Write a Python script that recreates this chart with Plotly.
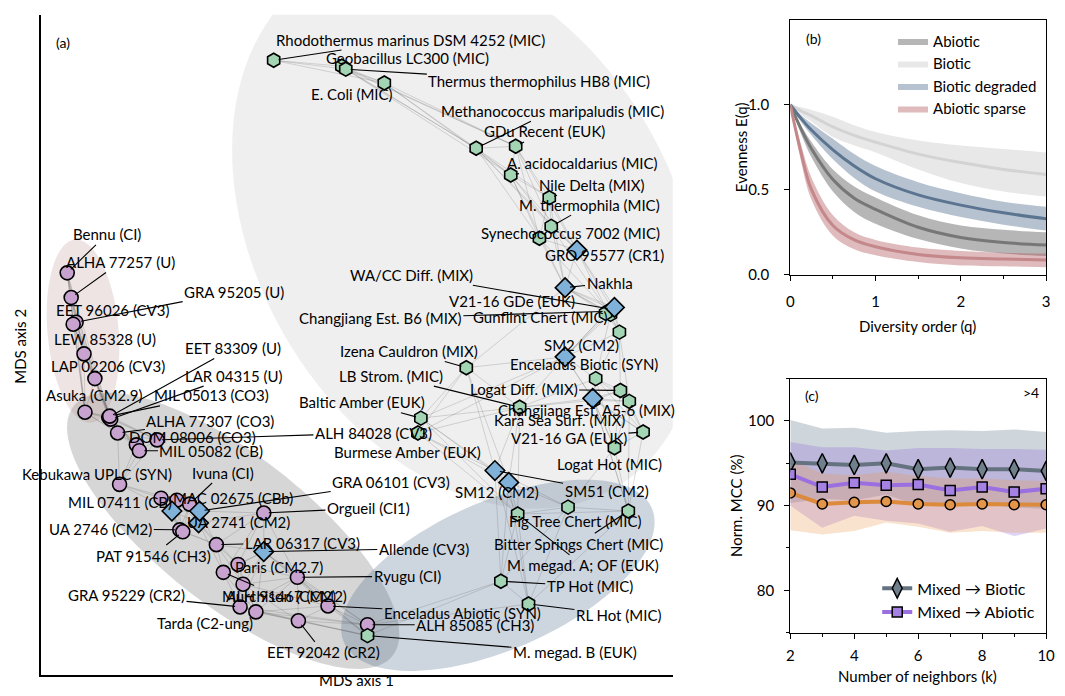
import numpy as np
import plotly.graph_objects as go

W, H = 1065, 696
FONT = "Lato"

# ---------------- Panel (a): MDS network ----------------
names = ["Bennu (CI)", "ALHA 77257 (U)", "GRA 95205 (U)", "EET 96026 (CV3)", "LEW 85328 (U)",
         "LAP 02206 (CV3)", "Asuka (CM2.9)", "EET 83309 (U)", "LAR 04315 (U)", "MIL 05013 (CO3)",
         "ALHA 77307 (CO3)", "DOM 08006 (CO3)", "MIL 05082 (CB)", "ALH 84028 (CV3)", "Kebukawa UPLC (SYN)",
         "MIL 07411 (CB)", "MAC 02675 (CBb)", "Ivuna (CI)", "UA 2746 (CM2)", "PAT 91546 (CH3)",
         "UA 2741 (CM2)", "GRA 06101 (CV3)", "", "Orgueil (CI1)", "LAR 06317 (CV3)",
         "Allende (CV3)", "Paris (CM2.7)", "Ryugu (CI)", "Murchison (CM2)", "ALH 91467 (CM2)",
         "GRA 95229 (CR2)", "Tarda (C2-ung)", "EET 92042 (CR2)", "Enceladus Abiotic (SYN)", "ALH 85085 (CH3)",
         "Rhodothermus marinus DSM 4252 (MIC)", "Geobacillus LC300 (MIC)", "Thermus thermophilus HB8 (MIC)",
         "E. Coli (MIC)", "Methanococcus maripaludis (MIC)", "GDu Recent (EUK)", "A. acidocaldarius (MIC)",
         "Nile Delta (MIX)", "M. thermophila (MIC)", "Synechococcus 7002 (MIC)", "GRO 95577 (CR1)", "Nakhla",
         "WA/CC Diff. (MIX)", "V21-16 GDe (EUK)", "Changjiang Est. B6 (MIX)", "Gunflint Chert (MIC)", "", "",
         "Izena Cauldron (MIX)", "SM2 (CM2)", "Enceladus Biotic (SYN)", "LB Strom. (MIC)", "Logat Diff. (MIX)",
         "Changjiang Est. A5-6 (MIX)", "Kara Sea Surf. (MIX)", "", "Baltic Amber (EUK)", "Burmese Amber (EUK)",
         "V21-16 GA (EUK)", "Logat Hot (MIC)", "SM12 (CM2)", "SM51 (CM2)", "Fig Tree Chert (MIC)",
         "Bitter Springs Chert (MIC)", "M. megad. A; OF (EUK)", "TP Hot (MIC)", "RL Hot (MIC)", "M. megad. B (EUK)"]
groups = (["A"] * 20 + ["M", "M", "M", "A", "A", "M"] + ["A"] * 9 +
          ["B"] * 10 + ["M", "M", "B", "B", "B", "B", "M", "B", "B", "M", "B", "B", "B", "B", "B", "M",
                        "B", "B", "B", "B", "M", "M", "B", "B", "B", "B", "B", "B"])
mds1 = [0.27, 0.31, 0.36, 0.33, 0.44, 0.55, 0.45, 0.69, 0.71, 0.70,
        0.78, 0.97, 1.00, 1.18, 0.80, 1.22, 1.38, 1.51, 1.41, 1.44,
        1.60, 1.61, 1.33, 2.26, 1.78, 2.26, 2.00, 2.60, 1.85, 2.05,
        2.02, 2.18, 2.61, 2.91, 3.31,
        2.36, 3.05, 3.09, 3.48, 4.41, 4.81, 4.76, 5.15, 5.17, 5.05,
        5.43, 5.31, 5.79, 5.77, 5.74, 5.72, 5.81, 5.86, 4.31, 5.31,
        5.62, 4.85, 5.87, 5.96, 5.60, 5.59, 3.85, 3.82, 6.10, 5.81,
        4.74, 4.60, 5.34, 5.95, 4.83, 4.66, 4.94, 3.31]
mds2 = [4.07, 3.82, 3.57, 3.55, 3.25, 3.00, 2.66, 2.61, 2.59, 2.62,
        2.45, 2.33, 2.27, 2.38, 1.93, 1.79, 1.77, 1.73, 1.47, 1.45,
        1.54, 1.66, 1.66, 1.64, 1.32, 1.25, 1.12, 0.99, 1.04, 0.92,
        0.69, 0.64, 0.55, 0.70, 0.51,
        6.22, 6.16, 6.13, 5.99, 5.33, 5.35, 5.06, 4.83, 4.54, 4.42,
        4.30, 3.92, 3.70, 3.65, 3.68, 3.66, 3.72, 3.47, 3.11, 3.22,
        3.00, 2.71, 2.88, 2.77, 2.78, 2.80, 2.60, 2.45, 2.46, 2.30,
        1.95, 2.07, 1.70, 1.66, 1.63, 0.95, 0.72, 0.40]
lab_x = [0.67, 0.81, 1.96, 0.73, 0.65, 0.68, 0.55, 1.95, 1.95, 1.73,
         1.72, 1.54, 1.73, 3.37, 0.57, 0.80, 1.95, 1.85, 0.61, 1.14,
         2.00, 3.55, None, 3.32, 2.65, 3.88, 2.41, 3.71, 2.41, 2.49,
         0.87, 1.66, 2.86, 4.27, 4.40,
         3.75, 3.71, 5.05, 3.15, 5.18, 5.10, 5.49, 5.58, 5.56, 5.36,
         5.71, 5.76, 3.76, 4.77, 3.44, 5.06, None, None, 3.73, 5.48,
         5.50, 3.55, 4.89, 5.53, 5.25, None, 3.25, 3.71, 5.35, 5.76,
         4.62, 5.73, 5.41, 5.45, 5.49, 5.56, 5.85, 5.41]
lab_y = [4.46, 4.18, 3.88, 3.69, 3.40, 3.13, 2.83, 3.31, 3.03, 2.83,
         2.57, 2.41, 2.27, 2.45, 2.03, 1.75, 1.79, 2.05, 1.48, 1.21,
         1.55, 1.95, None, 1.69, 1.34, 1.28, 1.09, 1.00, 0.80, 0.80,
         0.81, 0.53, 0.23, 0.63, 0.51,
         6.43, 6.24, 6.01, 5.88, 5.71, 5.50, 5.18, 4.96, 4.76, 4.47,
         4.25, 3.97, 4.05, 3.78, 3.61, 3.62, None, None, 3.28, 3.34,
         3.15, 3.03, 2.89, 2.68, 2.58, None, 2.76, 2.26, 2.40, 2.14,
         1.85, 1.86, 1.56, 1.33, 1.11, 0.90, 0.61, 0.23]
leader = [1, 1, 1, 0, 0, 0, 0, 1, 1, 1,
          1, 0, 1, 1, 0, 0, 0, 1, 1, 1,
          0, 1, 0, 1, 1, 1, 0, 1, 1, 0,
          1, 0, 1, 1, 1,
          1, 1, 1, 0, 1, 1, 1, 1, 1, 0,
          0, 1, 1, 0, 1, 0, 0, 0, 1, 0,
          0, 1, 1, 0, 0, 0, 1, 0, 1, 0,
          0, 1, 0, 1, 1, 1, 1, 1]

# group ellipses (centre x, centre y, semi-major, semi-minor, angle in degrees)
ellipses = [
    (4.31, 4.49, 3.00, 2.12, -60.0, "rgba(160,160,160,0.17)"),
    (1.95, 1.46, 2.05, 0.76, -38.0, "rgba(120,120,120,0.30)"),
    (4.63, 1.01, 1.70, 0.75, 23.6, "rgba(70,100,135,0.27)"),
    (0.43, 3.48, 0.93, 0.36, 95.0, "rgba(180,130,130,0.22)"),
]

# ---------------- Panel (b): evenness profiles ----------------
q = [0, 0.125, 0.25, 0.5, 0.75, 1.0, 1.5, 2.0, 2.5, 3.0]
ev = {
    "Biotic": ([1.0, 0.965, 0.935, 0.87, 0.82, 0.78, 0.71, 0.66, 0.62, 0.59],
               [1.0, 0.985, 0.97, 0.93, 0.88, 0.84, 0.79, 0.76, 0.74, 0.72],
               [1.0, 0.945, 0.90, 0.81, 0.76, 0.72, 0.62, 0.54, 0.49, 0.46]),
    "Biotic degraded": ([1.0, 0.92, 0.85, 0.735, 0.64, 0.565, 0.47, 0.41, 0.365, 0.33],
                        [1.0, 0.94, 0.89, 0.80, 0.71, 0.64, 0.545, 0.48, 0.43, 0.40],
                        [1.0, 0.90, 0.82, 0.68, 0.57, 0.49, 0.40, 0.34, 0.295, 0.26]),
    "Abiotic": ([1.0, 0.86, 0.74, 0.56, 0.45, 0.385, 0.28, 0.22, 0.19, 0.175],
                [1.0, 0.88, 0.78, 0.62, 0.52, 0.455, 0.35, 0.29, 0.265, 0.25],
                [1.0, 0.83, 0.69, 0.49, 0.37, 0.30, 0.21, 0.155, 0.125, 0.11]),
    "Abiotic sparse": ([1.0, 0.72, 0.50, 0.29, 0.205, 0.165, 0.12, 0.10, 0.093, 0.087],
                       [1.0, 0.77, 0.57, 0.35, 0.25, 0.205, 0.16, 0.14, 0.13, 0.125],
                       [1.0, 0.67, 0.44, 0.23, 0.15, 0.115, 0.075, 0.055, 0.05, 0.045]),
}

# ---------------- Panel (c): normalised MCC ----------------
k = [2, 3, 4, 5, 6, 7, 8, 9, 10]
mcc_bio = [95.1, 95.0, 94.8, 95.0, 94.3, 94.5, 94.3, 94.3, 94.1]
mcc_bio_hi = [100.1, 99.1, 99.2, 98.6, 98.8, 98.9, 98.8, 99.0, 98.7]
mcc_bio_lo = [90.3, 90.8, 90.6, 91.3, 90.0, 90.2, 90.1, 89.8, 89.6]
mcc_abio = [93.7, 92.2, 92.7, 92.4, 92.5, 91.8, 92.2, 91.6, 92.0]
mcc_abio_hi = [97.5, 96.9, 96.9, 96.5, 96.8, 96.8, 96.7, 96.7, 96.6]
mcc_abio_lo = [90.0, 87.4, 88.8, 88.2, 87.9, 86.9, 87.6, 86.4, 87.3]
mcc_orng = [91.5, 90.2, 90.4, 90.5, 90.2, 90.1, 90.2, 90.1, 90.1]
mcc_orng_hi = [95.5, 93.8, 93.6, 94.0, 93.5, 93.2, 93.2, 93.0, 92.9]
mcc_orng_lo = [87.1, 86.6, 87.0, 88.0, 87.5, 86.8, 87.0, 86.8, 86.8]


def px(x):
    return x / W


def py(y):
    return 1 - y / H


fig = go.Figure()

# ---- panel (a) ----
def ellipse_path(cx, cy, a, b, ang):
    t = np.linspace(0, 2 * np.pi, 120)
    th = np.deg2rad(ang)
    xs = cx + a * np.cos(t) * np.cos(th) - b * np.sin(t) * np.sin(th)
    ys = cy + a * np.cos(t) * np.sin(th) + b * np.sin(t) * np.cos(th)
    return "M " + " L ".join(f"{u:.4f},{v:.4f}" for u, v in zip(xs, ys)) + " Z"


shapes = []
for cx, cy, a, b, ang, col in ellipses:
    shapes.append(dict(type="path", xref="x", yref="y", path=ellipse_path(cx, cy, a, b, ang),
                       fillcolor=col, line=dict(width=0), layer="below"))

# network edges: nearest neighbours in the MDS embedding (short links only)
P = np.column_stack([mds1, mds2])
D = np.hypot(P[:, None, 0] - P[None, :, 0], P[:, None, 1] - P[None, :, 1])
edges = set()
for i in range(len(P)):
    for j in np.argsort(D[i])[1:8]:
        if D[i, j] < 2.0:
            edges.add((min(i, int(j)), max(i, int(j))))
ex, ey = [], []
for i, j in sorted(edges):
    ex += [mds1[i], mds1[j], None]
    ey += [mds2[i], mds2[j], None]
fig.add_trace(go.Scatter(x=ex, y=ey, mode="lines", line=dict(color="rgba(90,90,90,0.28)", width=0.8),
                         hoverinfo="skip", showlegend=False, xaxis="x", yaxis="y"))

gstyle = {"A": ("circle", "#c8a3cf", 14), "B": ("hexagon", "#a3d5b5", 14), "M": ("diamond", "#7fb1d9", 15)}
for g in ["A", "B", "M"]:
    idx = [i for i in range(len(names)) if groups[i] == g]
    sym, col, sz = gstyle[g]
    fig.add_trace(go.Scatter(x=[mds1[i] for i in idx], y=[mds2[i] for i in idx], mode="markers",
                             marker=dict(symbol=sym, color=col, size=sz, line=dict(color="black", width=1.6)),
                             text=[names[i] for i in idx], hoverinfo="text", showlegend=False,
                             xaxis="x", yaxis="y"))

LFONT = dict(family=FONT, size=15, color="black")
annotations = []
for i, nm in enumerate(names):
    if not nm or lab_x[i] is None:
        continue
    if leader[i]:
        annotations.append(dict(x=mds1[i], y=mds2[i], xref="x", yref="y", ax=lab_x[i], ay=lab_y[i],
                                axref="x", ayref="y", text=nm, showarrow=True, arrowhead=0, arrowwidth=1.1,
                                arrowcolor="black", standoff=5, font=LFONT))
    else:
        annotations.append(dict(x=lab_x[i], y=lab_y[i], xref="x", yref="y", text=nm, showarrow=False,
                                font=LFONT))

# ---- panel (b) ----
bstyle = {
    "Biotic": ("rgba(180,180,180,0.30)", "#d3d3d3", 2),
    "Biotic degraded": ("rgba(80,110,140,0.42)", "#5b7590", 3),
    "Abiotic": ("rgba(110,110,110,0.50)", "#777777", 1),
    "Abiotic sparse": ("rgba(175,85,90,0.40)", "#c4878a", 4),
}
for name in ["Biotic", "Biotic degraded", "Abiotic", "Abiotic sparse"]:
    mid, hi, lo = ev[name]
    fcol, lcol, rank = bstyle[name]
    fig.add_trace(go.Scatter(x=q, y=hi, mode="lines", line=dict(width=0, shape="spline"),
                             showlegend=False, hoverinfo="skip", xaxis="x2", yaxis="y2"))
    fig.add_trace(go.Scatter(x=q, y=lo, mode="lines", line=dict(width=0, shape="spline"), fill="tonexty",
                             fillcolor=fcol, name=name, legendrank=rank, legend="legend",
                             xaxis="x2", yaxis="y2"))
    fig.add_trace(go.Scatter(x=q, y=mid, mode="lines", line=dict(width=3, color=lcol, shape="spline"),
                             showlegend=False, xaxis="x2", yaxis="y2"))

# ---- panel (c) ----
cseries = [
    ("Mixed \u2192 Biotic", mcc_bio, mcc_bio_hi, mcc_bio_lo, "rgba(110,130,145,0.33)", "#64737f",
     "#6f7f8c", "diamond-tall", 14, True),
    ("Mixed \u2192 Abiotic", mcc_abio, mcc_abio_hi, mcc_abio_lo, "rgba(140,100,220,0.28)", "#9a70e0",
     "#a581e4", "square", 10, True),
    ("Mixed \u2192 Mixed", mcc_orng, mcc_orng_hi, mcc_orng_lo, "rgba(235,150,80,0.28)", "#dc8a3c",
     "#e3964a", "circle", 10, False),
]
for nm, mid, hi, lo, fcol, lcol, mcol, sym, sz, leg in cseries:
    fig.add_trace(go.Scatter(x=k, y=hi, mode="lines", line=dict(width=0), showlegend=False,
                             hoverinfo="skip", xaxis="x3", yaxis="y3"))
    fig.add_trace(go.Scatter(x=k, y=lo, mode="lines", line=dict(width=0), fill="tonexty", fillcolor=fcol,
                             showlegend=False, hoverinfo="skip", xaxis="x3", yaxis="y3"))
for nm, mid, hi, lo, fcol, lcol, mcol, sym, sz, leg in cseries:
    fig.add_trace(go.Scatter(x=k, y=mid, mode="lines+markers", name=nm, showlegend=leg, legend="legend2",
                             line=dict(color=lcol, width=4),
                             marker=dict(symbol=sym, size=sz, color=mcol, line=dict(color="black", width=1.5)),
                             xaxis="x3", yaxis="y3"))

tickfont = dict(family=FONT, size=15, color="black")
axis_common = dict(showline=True, linecolor="black", linewidth=1.3, showgrid=False, zeroline=False,
                   ticks="outside", ticklen=5, tickwidth=1.2, tickcolor="black", tickfont=tickfont)


def txt(x, y, s, size=15, angle=0, xanchor="center"):
    return dict(x=px(x), y=py(y), xref="paper", yref="paper", text=s, showarrow=False, textangle=angle,
                xanchor=xanchor, yanchor="middle", font=dict(family=FONT, size=size, color="black"))


annotations += [
    txt(60, 43, "(a)", 14),
    txt(820, 39, "(b)", 14),
    txt(818, 400, "(c)", 14),
    txt(1050, 397, ">4", 14, xanchor="right"),
    txt(16, 350, "MDS axis 2", 15, -90),
    txt(357, 688, "MDS axis 1", 15),
    txt(746, 149, "Evenness E(q)", 15, -90),
    txt(925, 330, "Diversity order (q)", 15),
    txt(741, 511, "Norm. MCC (%)", 15, -90),
    txt(925, 684, "Number of neighbors (k)", 15),
]

fig.update_layout(
    width=W, height=H, margin=dict(l=0, r=0, t=0, b=0),
    paper_bgcolor="white", plot_bgcolor="white",
    font=dict(family=FONT, size=15, color="black"),
    xaxis=dict(domain=[px(37), px(677)], range=[0, 6.40], showline=True, linecolor="black", linewidth=1.5,
               showticklabels=False, ticks="", showgrid=False, zeroline=False),
    yaxis=dict(domain=[py(683), py(15)], range=[0, 6.68], showline=True, linecolor="black", linewidth=1.5,
               showticklabels=False, ticks="", showgrid=False, zeroline=False),
    xaxis2=dict(domain=[px(796), px(1055)], range=[0, 3], anchor="y2", mirror=True, ticklabelstandoff=8,
                tickvals=[0, 1, 2, 3], minor=dict(tickvals=[0.5, 1.5, 2.5], ticks="outside", ticklen=3,
                                                  tickcolor="black"), **axis_common),
    yaxis2=dict(domain=[py(278), py(20)], range=[0, 1.5], anchor="x2", mirror=True, ticklabelstandoff=12,
                tickvals=[0, 0.5, 1.0], ticktext=["0.0", "0.5", "1.0"], **axis_common),
    xaxis3=dict(domain=[px(796), px(1055)], range=[2, 10], anchor="y3", mirror=True, ticklabelstandoff=4,
                tickvals=[2, 4, 6, 8, 10], minor=dict(tickvals=[3, 5, 7, 9], ticks="outside", ticklen=3,
                                                      tickcolor="black"), **axis_common),
    yaxis3=dict(domain=[py(640), py(383)], range=[75, 105], anchor="x3", mirror=True, ticklabelstandoff=7,
                tickvals=[80, 90, 100], minor=dict(tickvals=[75, 85, 95, 105], ticks="outside", ticklen=3,
                                                   tickcolor="black"), **axis_common),
    legend=dict(x=px(900), y=py(25), xanchor="left", yanchor="top", bgcolor="rgba(0,0,0,0)",
                font=dict(family=FONT, size=15), tracegroupgap=0, traceorder="normal"),
    legend2=dict(x=px(884), y=py(578), xanchor="left", yanchor="top", bgcolor="rgba(0,0,0,0)",
                 font=dict(family=FONT, size=16), tracegroupgap=0),
    shapes=shapes,
    annotations=annotations,
)

fig.write_html("out.html")
